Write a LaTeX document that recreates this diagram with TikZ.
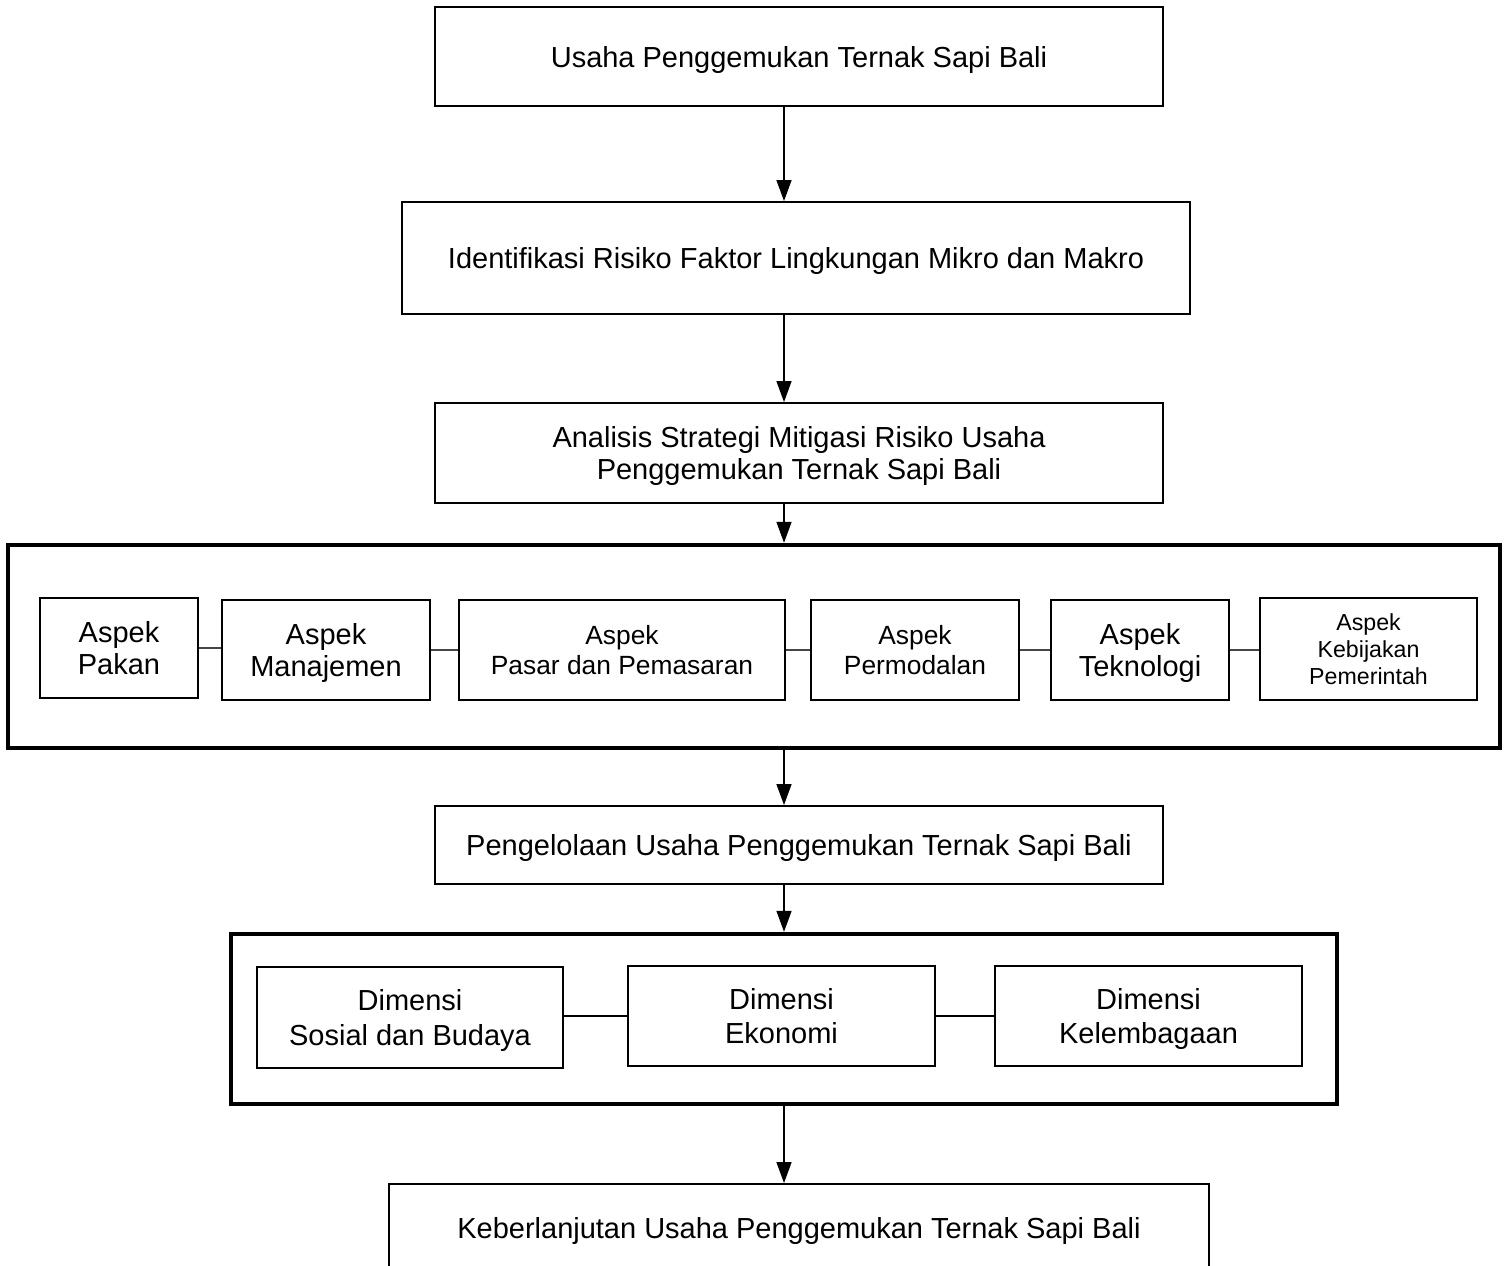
\documentclass[tikz,border=0pt]{standalone}
\usepackage{fontspec}
\setmainfont{Liberation Sans}
\usepackage{tikz}
\usetikzlibrary{arrows.meta}
\definecolor{garisabu}{RGB}{70, 70, 70}

\tikzset{
  kotak/.style={draw, line width=1.1pt, align=center, inner sep=2pt, text depth=0pt,
    font=\fontsize{16.5}{18.7}\selectfont},
  bingkai/.style={draw, line width=2.5pt, inner sep=0pt},
  panah/.style={-{Triangle[length=0.42cm, width=0.3cm]}, line width=0.8pt},
  sambung/.style={line width=0.8pt, garisabu}
}

\begin{document}
\begin{tikzpicture}[x=0.02cm, y=-0.02cm]
        \clip (0,0) rectangle (1506,1265);
        \coordinate (poros) at (784,0);

        % alur utama
        \node[kotak, minimum width=14.56cm, minimum height=1.98cm] (usaha) at (799,56.5) {Usaha Penggemukan Ternak Sapi Bali};
        \node[kotak, minimum width=15.76cm, minimum height=2.24cm] (identifikasi) at (796,258) {Identifikasi Risiko Faktor Lingkungan Mikro dan Makro};
        \node[kotak, minimum width=14.56cm, minimum height=2.0cm] (analisis) at (799,453) {Analisis Strategi Mitigasi Risiko Usaha\\ Penggemukan Ternak Sapi Bali};

        % aspek
        \node[bingkai, minimum width=29.84cm, minimum height=4.06cm] (aspek) at (754,646.5) {};
        \node[kotak, minimum width=3.16cm, minimum height=2.0cm] (pakan) at (119,648) {Aspek\\ Pakan};
        \node[kotak, minimum width=4.16cm, minimum height=2.0cm] (manajemen) at (326,650) {Aspek\\ Manajemen};
        \node[kotak, minimum width=6.52cm, minimum height=2.0cm, font=\fontsize{15}{17}\selectfont] (pasar) at (622,650) {Aspek\\ Pasar dan Pemasaran};
        \node[kotak, minimum width=4.16cm, minimum height=2.0cm, font=\fontsize{15}{17}\selectfont] (modal) at (915,650) {Aspek\\ Permodalan};
        \node[kotak, minimum width=3.56cm, minimum height=2.0cm] (teknologi) at (1140,650) {Aspek\\ Teknologi};
        \node[kotak, minimum width=4.34cm, minimum height=2.04cm, font=\fontsize{13.2}{15.3}\selectfont] (kebijakan) at (1368.5,649) {Aspek\\ Kebijakan\\ Pemerintah};

        \draw[sambung] (pakan.east) -- (pakan.east -| manajemen.west);
        \draw[sambung] (manajemen.east) -- (manajemen.east -| pasar.west);
        \draw[sambung] (pasar.east) -- (pasar.east -| modal.west);
        \draw[sambung] (modal.east) -- (modal.east -| teknologi.west);
        \draw[sambung] (teknologi.east) -- (teknologi.east -| kebijakan.west);

        \node[kotak, minimum width=14.56cm, minimum height=1.56cm] (pengelolaan) at (799,845) {Pengelolaan Usaha Penggemukan Ternak Sapi Bali};

        % dimensi
        \node[bingkai, minimum width=22.12cm, minimum height=3.4cm] (dimensi) at (784,1019) {};
        \node[kotak, minimum width=6.12cm, minimum height=2.02cm, font=\fontsize{16.5}{19.8}\selectfont] (sosial) at (410,1017.5) {Dimensi\\ Sosial dan Budaya};
        \node[kotak, minimum width=6.14cm, minimum height=2.0cm, font=\fontsize{16.5}{19.8}\selectfont] (ekonomi) at (781.5,1016) {Dimensi\\ Ekonomi};
        \node[kotak, minimum width=6.14cm, minimum height=2.0cm, font=\fontsize{16.5}{19.8}\selectfont] (lembaga) at (1148.5,1016) {Dimensi\\ Kelembagaan};

        \draw[sambung, black] (sosial.east |- ekonomi) -- (ekonomi.west);
        \draw[sambung, black] (ekonomi.east) -- (lembaga.west);

        \node[kotak, minimum width=16.4cm, minimum height=1.76cm] (keberlanjutan) at (799,1228) {Keberlanjutan Usaha Penggemukan Ternak Sapi Bali};

        % panah
        \draw[panah] (usaha.south -| poros) -- (identifikasi.north -| poros);
        \draw[panah] (identifikasi.south -| poros) -- (analisis.north -| poros);
        \draw[panah] (analisis.south -| poros) -- (aspek.north -| poros);
        \draw[panah] (aspek.south -| poros) -- (pengelolaan.north -| poros);
        \draw[panah] (pengelolaan.south -| poros) -- (dimensi.north -| poros);
        \draw[panah] (dimensi.south -| poros) -- (keberlanjutan.north -| poros);

    \end{tikzpicture}
\end{document}
